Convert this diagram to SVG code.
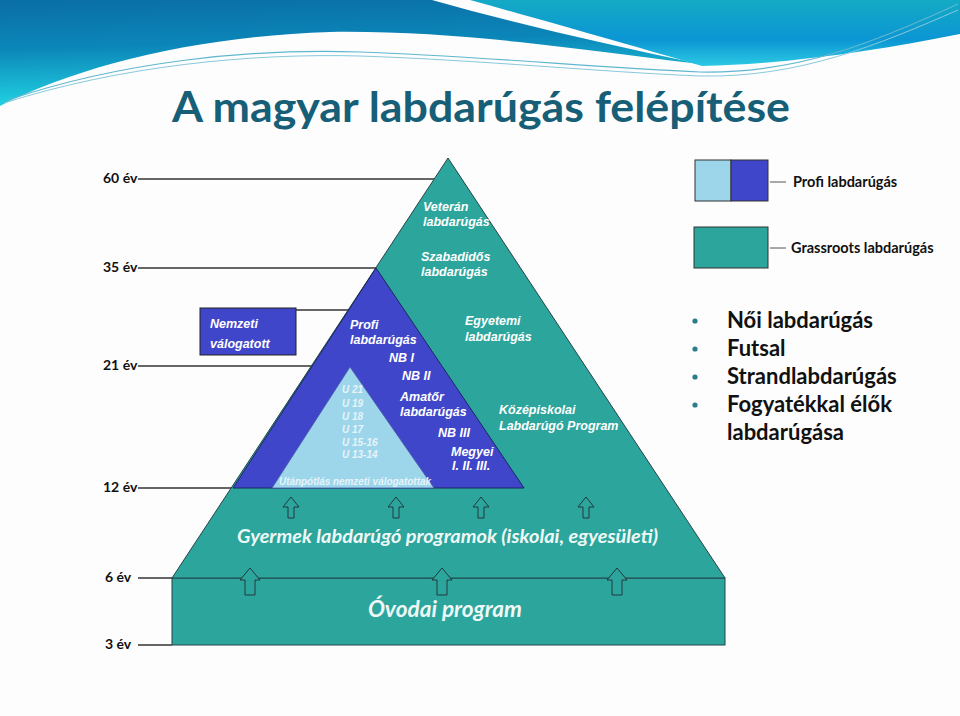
<svg xmlns="http://www.w3.org/2000/svg" width="960" height="716" viewBox="0 0 960 716">
<defs>
<linearGradient id="gA" x1="0" y1="0" x2="0.15" y2="1">
<stop offset="0" stop-color="#0a6ea6"/>
<stop offset="0.45" stop-color="#0b86b8"/>
<stop offset="1" stop-color="#22d4e4"/>
</linearGradient>
<linearGradient id="gB" x1="0" y1="0" x2="0" y2="1">
<stop offset="0" stop-color="#14aac4"/>
<stop offset="0.6" stop-color="#0b96d4"/>
<stop offset="1" stop-color="#2cc9e2"/>
</linearGradient>
<style>
.age{font-family:Lato,"Liberation Sans",Arial,sans-serif;font-weight:bold;font-size:14px;fill:#111}
.tick{stroke:#333;stroke-width:1.3;fill:none}
.lbl{font-family:"Liberation Sans",Arial,sans-serif;font-weight:bold;font-style:italic;font-size:12.5px;fill:#fff}
.ul{font-family:"Liberation Sans",Arial,sans-serif;font-weight:bold;font-style:italic;font-size:10px;fill:#e6f4fa}
.big{font-family:Lato,"Liberation Sans",Arial,sans-serif;font-weight:bold;font-style:italic;fill:#eef8f6}
.leg{font-family:Lato,"Liberation Sans",Arial,sans-serif;font-weight:bold;font-size:14.5px;fill:#111}
.bul{font-family:Lato,"Liberation Sans",Arial,sans-serif;font-weight:bold;font-size:22px;fill:#111}
.edge{stroke:#26444a;stroke-width:1}
.arr{fill:#2ca59c;stroke:#23383c;stroke-width:1}
.teal{fill:#2ca59c}
.blue{fill:#3f46c9}
.lblue{fill:#9dd6ea}
</style>
</defs>
<rect width="960" height="716" fill="#fdfdfd"/>
<g id="header">
<path d="M0,0 L432,0 C520,25 610,45 700,64 C600,52 460,30 330,32 C200,36 80,65 0,106 Z" fill="url(#gA)"/>
<path d="M470,0 L960,0 L960,34 C880,50 790,64 702,66 C640,48 560,25 470,0 Z" fill="url(#gB)"/>
<path d="M8,100 C120,62 250,48 360,52 C480,56 600,68 700,72 C800,74 880,40 958,4" fill="none" stroke="#5fb7cf" stroke-width="1.2"/>
<path d="M4,103 C120,66 250,53 360,56 C480,60 600,72 700,76 C800,78 880,44 958,10" fill="none" stroke="#88c9dc" stroke-width="1"/>
<text x="172" y="122" font-family="Lato,'Liberation Sans',Arial,sans-serif" font-weight="bold" font-size="42" fill="#175e77" textLength="618" lengthAdjust="spacingAndGlyphs">A magyar labdarúgás felépítése</text>
</g>
<g id="connectors">
<line class="tick" x1="138" y1="179" x2="434" y2="179"/>
<line class="tick" x1="138" y1="268" x2="376" y2="268"/>
<line class="tick" x1="138" y1="366" x2="350" y2="366"/>
<line class="tick" x1="138" y1="488" x2="233" y2="488"/>
<line class="tick" x1="138" y1="578" x2="172" y2="578"/>
<line class="tick" x1="138" y1="645" x2="172" y2="645"/>
<line class="tick" x1="296" y1="310" x2="368" y2="310"/>
<line x1="770" y1="182" x2="786" y2="182" stroke="#555" stroke-width="1"/>
<line x1="770" y1="248" x2="786" y2="248" stroke="#555" stroke-width="1"/>
</g>
<g id="ages">
<text class="age" x="103" y="183">60 év</text>
<text class="age" x="103" y="272">35 év</text>
<text class="age" x="103" y="370">21 év</text>
<text class="age" x="103" y="492">12 év</text>
<text class="age" x="105" y="582">6 év</text>
<text class="age" x="105" y="649">3 év</text>
</g>
<g id="ovodai">
<rect class="teal edge" x="172" y="578" width="553" height="67"/>
<text class="big" x="368" y="617" font-size="22" textLength="154" lengthAdjust="spacingAndGlyphs">Óvodai program</text>
</g>
<g id="grassroots-pyramid">
<polygon class="teal edge" points="448,158 725,578 172,578"/>
<text class="lbl" x="423" y="211">Veterán</text>
<text class="lbl" x="423" y="226">labdarúgás</text>
<text class="lbl" x="421" y="261">Szabadidős</text>
<text class="lbl" x="421" y="276">labdarúgás</text>
<text class="lbl" x="465" y="325">Egyetemi</text>
<text class="lbl" x="465" y="341">labdarúgás</text>
<text class="lbl" x="499" y="414">Középiskolai</text>
<text class="lbl" x="499" y="430">Labdarúgó Program</text>
<text class="big" x="237" y="543" font-size="18" textLength="421" lengthAdjust="spacingAndGlyphs">Gyermek labdarúgó programok (iskolai, egyesületi)</text>
</g>
<g id="profi-pyramid">
<polygon class="blue" points="376,268 524,488 233,488" stroke="#1d2660" stroke-width="1"/>
<text class="lbl" x="350" y="329">Profi</text>
<text class="lbl" x="350" y="344">labdarúgás</text>
<text class="lbl" x="389" y="362">NB I</text>
<text class="lbl" x="402" y="380">NB II</text>
<text class="lbl" x="400" y="401">Amatőr</text>
<text class="lbl" x="400" y="416">labdarúgás</text>
<text class="lbl" x="438" y="437">NB III</text>
<text class="lbl" x="451" y="456">Megyei</text>
<text class="lbl" x="452" y="470">I. II. III.</text>
</g>
<g id="utanpotlas-pyramid">
<polygon class="lblue" points="350,367 434,488 272,488" stroke="#4a5aa8" stroke-width="0.8"/>
<text class="ul" x="342" y="393">U 21</text>
<text class="ul" x="342" y="407">U 19</text>
<text class="ul" x="342" y="420">U 18</text>
<text class="ul" x="342" y="433">U 17</text>
<text class="ul" x="342" y="446">U 15-16</text>
<text class="ul" x="342" y="458">U 13-14</text>
<text class="ul" x="279" y="485" font-size="9" textLength="152" lengthAdjust="spacingAndGlyphs">Utánpótlás nemzeti válogatottak</text>
</g>
<g id="nemzeti">
<rect class="blue" x="200" y="308" width="96" height="47" stroke="#222" stroke-width="1"/>
<text class="lbl" x="210" y="328" font-size="16">Nemzeti</text>
<text class="lbl" x="210" y="348" font-size="16">válogatott</text>
</g>
<g id="arrows">
<path class="arr" d="M291,497 L299,507 L294,507 L294,518 L288,518 L288,507 L283,507 Z"/>
<path class="arr" d="M396,497 L404,507 L399,507 L399,518 L393,518 L393,507 L388,507 Z"/>
<path class="arr" d="M481,497 L489,507 L484,507 L484,518 L478,518 L478,507 L473,507 Z"/>
<path class="arr" d="M586,497 L594,507 L589,507 L589,518 L583,518 L583,507 L578,507 Z"/>
<path class="arr" d="M250,568 L260,580 L255,580 L255,595 L245,595 L245,580 L240,580 Z"/>
<path class="arr" d="M442,568 L452,580 L447,580 L447,595 L437,595 L437,580 L432,580 Z"/>
<path class="arr" d="M617,568 L627,580 L622,580 L622,595 L612,595 L612,580 L607,580 Z"/>
</g>
<g id="legend-profi">
<rect class="lblue" x="695" y="160" width="36" height="41" stroke="#333" stroke-width="1"/>
<rect class="blue" x="731" y="160" width="37" height="41" stroke="#333" stroke-width="1"/>
<text class="leg" x="793" y="187">Profi labdarúgás</text>
</g>
<g id="legend-grassroots">
<rect class="teal" x="694" y="227" width="74" height="41" stroke="#333" stroke-width="1"/>
<text class="leg" x="791" y="253">Grassroots labdarúgás</text>
</g>
<g id="bullets">
<circle cx="695" cy="321" r="2.6" fill="#2a7d8e"/>
<circle cx="695" cy="349" r="2.6" fill="#2a7d8e"/>
<circle cx="695" cy="377" r="2.6" fill="#2a7d8e"/>
<circle cx="695" cy="405" r="2.6" fill="#2a7d8e"/>
<text class="bul" x="727" y="328">Női labdarúgás</text>
<text class="bul" x="727" y="356">Futsal</text>
<text class="bul" x="727" y="384">Strandlabdarúgás</text>
<text class="bul" x="727" y="412">Fogyatékkal élők</text>
<text class="bul" x="727" y="440">labdarúgása</text>
</g>
</svg>
